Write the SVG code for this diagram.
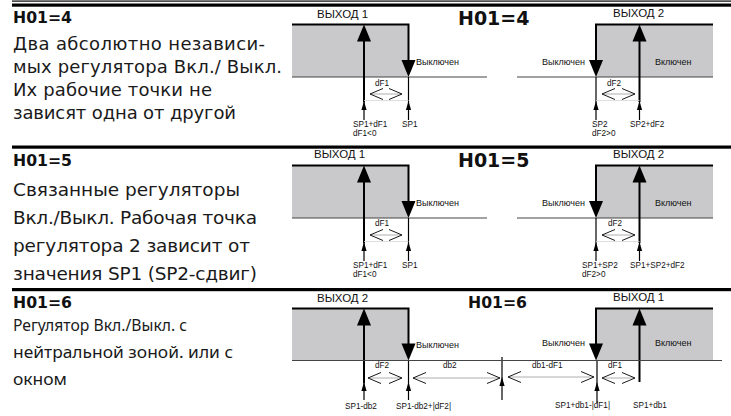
<svg xmlns="http://www.w3.org/2000/svg" xmlns:xlink="http://www.w3.org/1999/xlink" width="731" height="416" viewBox="0 0 731 416">
<style>
.t{font-family:"DejaVu Sans","Noto Sans",sans-serif;font-size:18px;fill:#1a1a1a}
.t2{font-family:"DejaVu Sans","Noto Sans",sans-serif;font-size:18.5px;fill:#1a1a1a}
.t3{font-family:"Noto Sans","DejaVu Sans",sans-serif;font-size:17px;fill:#1a1a1a}
.h{font-family:"DejaVu Sans",sans-serif;font-weight:bold;font-size:15.7px;fill:#111}
.h2{font-family:"DejaVu Sans",sans-serif;font-weight:bold;font-size:19px;fill:#111}
.out{font-family:"Liberation Sans",sans-serif;font-size:11.5px;fill:#111}
.st{font-family:"Liberation Sans",sans-serif;font-size:9px;fill:#111}
.lab{font-family:"Liberation Sans",sans-serif;font-size:8.2px;fill:#111}
.fill{fill:#c9c9cb}
.bl{stroke:#444;stroke-width:1.2;fill:none}
.k{stroke:#000;stroke-width:2;fill:none}
.thin{stroke:#000;stroke-width:1.2;fill:none}
.chev{stroke:#000;stroke-width:0.9;fill:none}
.mid{stroke:#999;stroke-width:0.8}
.faint{stroke:#d6d6d6;stroke-width:0.8}
.sep{fill:#000}
</style>
<defs>
<path id="bu" d="M0,0 L-7,17 L7,17 Z" fill="#000"/>
<path id="bd" d="M0,0 L-7,-17 L7,-17 Z" fill="#000"/>
<path id="su" d="M0,0 L-2.6,9 L2.6,9 Z" fill="#000"/>
<path id="cl" d="M13,-5.5 L0,0 L13,5.5" class="chev"/>
<path id="cr" d="M-13,-5.5 L0,0 L-13,5.5" class="chev"/>
</defs>

<g id="rules">
<rect class="sep" x="12" y="0.5" width="719" height="1.2"/>
<rect class="sep" x="12" y="3.5" width="719" height="3.2"/>
<rect class="sep" x="12" y="145.5" width="719" height="3.2"/>
<rect class="sep" x="12" y="288" width="719" height="3.2"/>
</g>

<g id="text1">
<text class="h" x="13" y="23">H01=4</text>
<text class="t" x="13" y="50" textLength="252">Два абсолютно независи-</text>
<text class="t" x="13" y="73" textLength="269">мых регулятора Вкл./ Выкл.</text>
<text class="t" x="13" y="96" textLength="199">Их рабочие точки не</text>
<text class="t" x="13" y="119" textLength="223">зависят одна от другой</text>
<text class="h2" x="458" y="25">H01=4</text>
</g>

<g id="text2">
<text class="h" x="13" y="166">H01=5</text>
<text class="t2" x="13" y="196" textLength="227">Связанные регуляторы</text>
<text class="t2" x="13" y="224" textLength="244">Вкл./Выкл. Рабочая точка</text>
<text class="t2" x="13" y="252" textLength="237">регулятора 2 зависит от</text>
<text class="t2" x="13" y="280" textLength="244">значения SP1 (SP2-сдвиг)</text>
<text class="h2" x="458" y="167">H01=5</text>
</g>

<g id="text3">
<text class="h" x="13" y="308">H01=6</text>
<text class="t3" x="13" y="331" textLength="174" lengthAdjust="spacingAndGlyphs">Регулятор Вкл./Выкл. с</text>
<text class="t3" x="13" y="358" textLength="220" lengthAdjust="spacingAndGlyphs">нейтральной зоной. или с</text>
<text class="t3" x="13" y="385" textLength="54" lengthAdjust="spacingAndGlyphs">окном</text>
<text class="h" x="468" y="308">H01=6</text>
</g>

<!-- section 1 -->
<g id="out1-h4">
<text class="out" x="317" y="18">ВЫХОД 1</text>
<rect class="fill" x="292" y="24.5" width="116.5" height="52.5"/>
<path class="k" d="M292,24.5 H408.5 V62"/>
<use xlink:href="#bd" x="408.5" y="77"/>
<line class="bl" x1="292" y1="77" x2="487" y2="77"/>
<line class="k" x1="364" y1="40" x2="364" y2="102"/>
<use xlink:href="#bu" x="364" y="24.5"/>
<line class="thin" x1="364" y1="101" x2="364" y2="120"/>
<use xlink:href="#su" x="364" y="101"/>
<line class="thin" x1="408.5" y1="77" x2="408.5" y2="120"/>
<use xlink:href="#su" x="408.5" y="101"/>
<line class="faint" x1="364" y1="100.5" x2="408.5" y2="100.5"/>
<line class="mid" x1="370" y1="94" x2="402" y2="94"/>
<use xlink:href="#cl" x="370" y="94"/>
<use xlink:href="#cr" x="402" y="94"/>
<text class="lab" x="375" y="86">dF1</text>
<text class="st" x="416" y="65">Выключен</text>
<text class="lab" x="353" y="127">SP1+dF1</text>
<text class="lab" x="353" y="135.5">dF1&lt;0</text>
<text class="lab" x="402" y="127">SP1</text>
</g>

<g id="out2-h4">
<text class="out" x="613" y="16.5">ВЫХОД 2</text>
<rect class="fill" x="596" y="24.5" width="117" height="52.5"/>
<path class="k" d="M713,24.5 H596 V62"/>
<use xlink:href="#bd" x="596" y="77"/>
<line class="bl" x1="517" y1="77" x2="713" y2="77"/>
<line class="k" x1="639.5" y1="40" x2="639.5" y2="102"/>
<use xlink:href="#bu" x="639.5" y="24.5"/>
<line class="thin" x1="639.5" y1="101" x2="639.5" y2="120"/>
<use xlink:href="#su" x="639.5" y="101"/>
<line class="thin" x1="596" y1="77" x2="596" y2="120"/>
<use xlink:href="#su" x="596" y="101"/>
<line class="faint" x1="596" y1="100.5" x2="639.5" y2="100.5"/>
<line class="mid" x1="602" y1="94" x2="635" y2="94"/>
<use xlink:href="#cl" x="602" y="94"/>
<use xlink:href="#cr" x="635" y="94"/>
<text class="lab" x="607" y="86">dF2</text>
<text class="st" x="542" y="65">Выключен</text>
<text class="st" x="655" y="65">Включен</text>
<text class="lab" x="592" y="127">SP2</text>
<text class="lab" x="592" y="135.5">dF2&gt;0</text>
<text class="lab" x="630" y="127">SP2+dF2</text>
</g>

<!-- section 2 -->
<g id="out1-h5" transform="translate(0,141)">
<text class="out" x="314" y="17">ВЫХОД 1</text>
<rect class="fill" x="292" y="24.5" width="116.5" height="52.5"/>
<path class="k" d="M292,24.5 H408.5 V62"/>
<use xlink:href="#bd" x="408.5" y="77"/>
<line class="bl" x1="292" y1="77" x2="487" y2="77"/>
<line class="k" x1="364" y1="40" x2="364" y2="102"/>
<use xlink:href="#bu" x="364" y="24.5"/>
<line class="thin" x1="364" y1="101" x2="364" y2="120"/>
<use xlink:href="#su" x="364" y="101"/>
<line class="thin" x1="408.5" y1="77" x2="408.5" y2="120"/>
<use xlink:href="#su" x="408.5" y="101"/>
<line class="faint" x1="364" y1="100.5" x2="408.5" y2="100.5"/>
<line class="mid" x1="370" y1="94" x2="402" y2="94"/>
<use xlink:href="#cl" x="370" y="94"/>
<use xlink:href="#cr" x="402" y="94"/>
<text class="lab" x="375" y="85">dF1</text>
<text class="st" x="416" y="65">Выключен</text>
<text class="lab" x="353" y="127">SP1+dF1</text>
<text class="lab" x="353" y="135.5">dF1&lt;0</text>
<text class="lab" x="402" y="127">SP1</text>
</g>

<g id="out2-h5" transform="translate(0,141)">
<text class="out" x="613" y="17">ВЫХОД 2</text>
<rect class="fill" x="596" y="24.5" width="117" height="52.5"/>
<path class="k" d="M713,24.5 H596 V62"/>
<use xlink:href="#bd" x="596" y="77"/>
<line class="bl" x1="517" y1="77" x2="713" y2="77"/>
<line class="k" x1="639.5" y1="40" x2="639.5" y2="102"/>
<use xlink:href="#bu" x="639.5" y="24.5"/>
<line class="thin" x1="639.5" y1="101" x2="639.5" y2="120"/>
<use xlink:href="#su" x="639.5" y="101"/>
<line class="thin" x1="596" y1="77" x2="596" y2="120"/>
<use xlink:href="#su" x="596" y="101"/>
<line class="faint" x1="596" y1="100.5" x2="639.5" y2="100.5"/>
<line class="mid" x1="602" y1="94" x2="635" y2="94"/>
<use xlink:href="#cl" x="602" y="94"/>
<use xlink:href="#cr" x="635" y="94"/>
<text class="lab" x="608" y="85">dF2</text>
<text class="st" x="542" y="65">Выключен</text>
<text class="st" x="655" y="65">Включен</text>
<text class="lab" x="582" y="127">SP1+SP2</text>
<text class="lab" x="582" y="135.5">dF2&gt;0</text>
<text class="lab" x="630" y="127">SP1+SP2+dF2</text>
</g>

<!-- section 3 -->
<g id="h6-diagram">
<text class="out" x="317" y="301.5">ВЫХОД 2</text>
<rect class="fill" x="292" y="308.5" width="116.5" height="52"/>
<path class="k" d="M292,308.5 H408.5 V345"/>
<use xlink:href="#bd" x="408.5" y="360.5"/>
<line class="k" x1="364" y1="324" x2="364" y2="383"/>
<use xlink:href="#bu" x="364" y="308.5"/>
<line class="thin" x1="364" y1="382" x2="364" y2="400"/>
<use xlink:href="#su" x="364" y="382"/>
<line class="thin" x1="408.5" y1="360.5" x2="408.5" y2="400"/>
<use xlink:href="#su" x="408.5" y="382"/>
<line class="mid" x1="368" y1="378" x2="402" y2="378"/>
<use xlink:href="#cl" x="368" y="378"/>
<use xlink:href="#cr" x="402" y="378"/>
<text class="lab" x="375" y="368">dF2</text>
<text class="st" x="416" y="348">Выключен</text>

<line class="mid" x1="413" y1="378" x2="500" y2="378"/>
<use xlink:href="#cl" x="413" y="378"/>
<use xlink:href="#cr" x="500" y="378"/>
<text class="lab" x="443" y="368">db2</text>

<line class="thin" x1="502" y1="357" x2="502" y2="400"/>
<use xlink:href="#su" x="502" y="377"/>

<line class="mid" x1="508" y1="377" x2="594" y2="377"/>
<use xlink:href="#cl" x="508" y="377"/>
<use xlink:href="#cr" x="594" y="377"/>
<text class="lab" x="532" y="368">db1-dF1</text>

<text class="out" x="613" y="300.5">ВЫХОД 1</text>
<rect class="fill" x="596" y="308.5" width="117" height="52"/>
<path class="k" d="M713,308.5 H596 V345"/>
<use xlink:href="#bd" x="596" y="360.5"/>
<line class="k" x1="639.5" y1="324" x2="639.5" y2="382"/>
<use xlink:href="#bu" x="639.5" y="308.5"/>
<line class="thin" x1="597" y1="360.5" x2="597" y2="403"/>
<use xlink:href="#su" x="597" y="382"/>
<line class="mid" x1="602" y1="378" x2="635" y2="378"/>
<use xlink:href="#cl" x="602" y="378"/>
<use xlink:href="#cr" x="635" y="378"/>
<text class="lab" x="608" y="368">dF1</text>
<text class="st" x="542" y="346">Выключен</text>
<text class="st" x="655" y="346">Включен</text>

<line class="bl" x1="292" y1="360.5" x2="722" y2="360.5"/>

<text class="lab" x="345" y="409">SP1-db2</text>
<text class="lab" x="396" y="409">SP1-db2+|dF2|</text>
<text class="lab" x="555" y="408">SP1+db1-|dF1|</text>
<text class="lab" x="633" y="408">SP1+db1</text>
</g>
</svg>
